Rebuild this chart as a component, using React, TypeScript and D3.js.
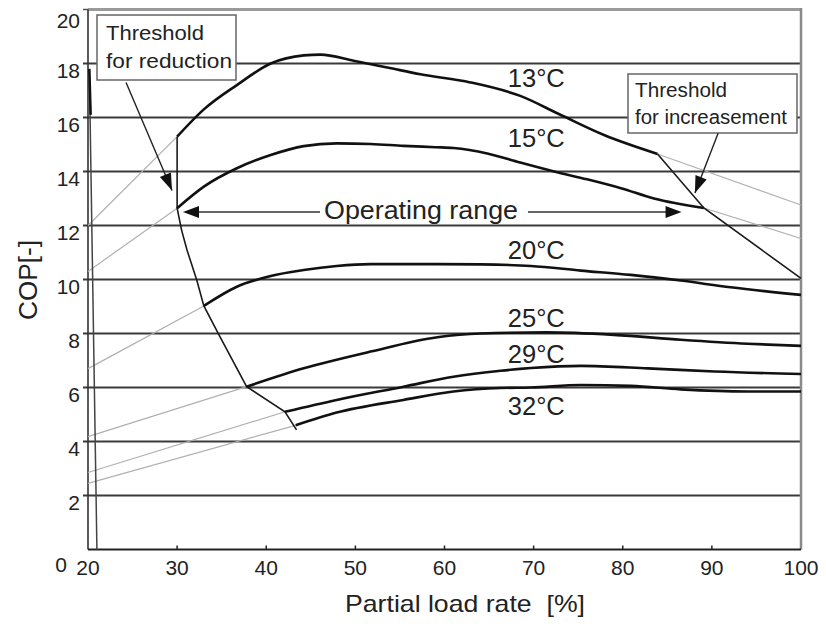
import React from 'react';
import * as d3 from 'd3';

const W = 826;
const H = 624;

// Axis ticks
const loadTicks = [20, 30, 40, 50, 60, 70, 80, 90, 100];
const copTicks = [0, 2, 4, 6, 8, 10, 12, 14, 16, 18, 20];

// Series (Partial load rate [%] vs COP)
const temps = ['13°C', '15°C', '20°C', '25°C', '29°C', '32°C'];
const load13 = [30, 33, 36.7, 40.5, 44.2, 46.1, 49.8, 53.6, 57.3, 62.9, 68.5, 73, 77.9, 83.9];
const cop13 = [15.29, 16.3, 17.2, 18.0, 18.3, 18.33, 18.1, 17.85, 17.6, 17.3, 16.8, 16.1, 15.35, 14.65];
const load15 = [30, 33, 36.7, 40.5, 44.2, 47.9, 51.7, 55.4, 59, 61, 64.8, 68.5, 72.3, 76, 79.8, 83.5, 89.1];
const cop15 = [12.64, 13.44, 14.12, 14.61, 14.94, 15.04, 15.02, 14.95, 14.9, 14.87, 14.67, 14.33, 14.0, 13.71, 13.38, 13.0, 12.65];
const load20 = [33, 36.7, 40.5, 44.2, 47.9, 51.7, 59.2, 64, 69.7, 75.3, 80.9, 86.5, 92.1, 100];
const cop20 = [9.02, 9.73, 10.13, 10.35, 10.5, 10.57, 10.57, 10.56, 10.5, 10.33, 10.17, 9.96, 9.71, 9.43];
const load25 = [37.8, 44.2, 51.7, 59.2, 64, 71.5, 79, 86.5, 94, 100];
const cop25 = [6.03, 6.71, 7.33, 7.86, 8.0, 8.04, 7.95, 7.77, 7.62, 7.54];
const load29 = [42.1, 47.9, 55.4, 61, 66.3, 69.7, 75.3, 82.8, 90.3, 100];
const cop29 = [5.1, 5.54, 6.03, 6.4, 6.62, 6.72, 6.8, 6.71, 6.59, 6.5];
const load32 = [43.3, 47.9, 55.4, 61, 66.3, 69.7, 75.3, 80.9, 86.5, 94, 100];
const cop32 = [4.6, 5.07, 5.54, 5.85, 5.98, 6.0, 6.09, 6.06, 5.93, 5.85, 5.85];

// Light grey extrapolations (left and right)
const extLoad = [[20, 30], [20, 30], [20, 33], [20, 37.8], [20, 42.1], [20, 43.3], [83.9, 100], [89.1, 100]];
const extCop = [[12.0, 15.29], [10.3, 12.64], [6.7, 9.02], [4.18, 6.03], [2.85, 5.1], [2.45, 4.6], [14.65, 12.76], [12.65, 11.52]];

// Threshold lines
const reduceLoad = [30, 30, 30.5, 31.1, 32.2, 33, 34.8, 37.8, 42.1, 43.4];
const reduceCop = [15.29, 12.64, 11.83, 11.1, 9.98, 9.02, 7.88, 6.03, 5.1, 4.43];
const increaseLoad = [83.9, 89.1, 100];
const increaseCop = [14.65, 12.65, 10.04];
const steepLoad = [20.15, 21.0];
const steepCop = [17.8, 0];
const steepTopLoad = [20.15, 20.3];
const steepTopCop = [17.8, 16.1];

// Series label positions (data units)
const labelLoad = [70.3, 70.3, 70.3, 70.3, 70.3, 70.3];
const labelCop = [17.12, 14.9, 10.75, 8.25, 6.92, 4.98];

const FONT = "'Liberation Sans', Arial, Helvetica, sans-serif";

const x = d3.scaleLinear().domain([20, 100]).range([88, 801]);
const y = d3.scaleLinear().domain([0, 20]).range([549.5, 9.5]);

const smooth = d3.line<[number, number]>().x(d => x(d[0])).y(d => y(d[1])).curve(d3.curveMonotoneX);
const straight = d3.line<[number, number]>().x(d => x(d[0])).y(d => y(d[1])).curve(d3.curveLinear);

const zip = (a: number[], b: number[]): [number, number][] => a.map((v, i) => [v, b[i]]);

const seriesLoads = [load13, load15, load20, load25, load29, load32];
const seriesCops = [cop13, cop15, cop20, cop25, cop29, cop32];

function ArrowHead({ x1, y1, x2, y2, len = 16, wid = 12 }: { x1: number; y1: number; x2: number; y2: number; len?: number; wid?: number }) {
  const a = Math.atan2(y2 - y1, x2 - x1);
  const bx = x2 - len * Math.cos(a);
  const by = y2 - len * Math.sin(a);
  const px = -Math.sin(a) * wid / 2;
  const py = Math.cos(a) * wid / 2;
  return <path d={`M${x2},${y2}L${bx + px},${by + py}L${bx - px},${by - py}Z`} fill="#111" />;
}

export default function App() {
  const opY = y(12.5);
  const opL = x(30.66);
  const opR = x(86.6);
  const a1 = { x1: x(24.27), y1: y(17.3), x2: x(29.43), y2: y(13.3) };
  const a2 = { x1: x(90.7), y1: y(15.42), x2: x(88.1), y2: y(13.2) };

  return (
    <svg width={W} height={H} style={{ position: 'absolute', left: 0, top: 0, display: 'block', background: '#fff' }} fontFamily={FONT}>
      <rect x={0} y={0} width={W} height={H} fill="#fff" />
      {/* gridlines + y ticks */}
      {copTicks.filter(v => v > 0 && v < 20).map(v => (
        <line key={'g' + v} x1={x(20) - 5} x2={x(100)} y1={y(v)} y2={y(v)} stroke="#3a3a3a" strokeWidth={1.8} />
      ))}
      {/* frame */}
      <line x1={x(20)} x2={x(100)} y1={y(20)} y2={y(20)} stroke="#9a9a9a" strokeWidth={3} />
      <line x1={x(20) - 5} x2={x(20)} y1={y(20)} y2={y(20)} stroke="#555" strokeWidth={1.5} />
      <line x1={x(100)} x2={x(100)} y1={y(20) - 1.5} y2={y(0)} stroke="#8a8a8a" strokeWidth={2.5} />
      <line x1={x(20)} x2={x(20)} y1={y(20)} y2={y(0)} stroke="#333" strokeWidth={1.6} />
      <line x1={x(20)} x2={x(100)} y1={y(0)} y2={y(0)} stroke="#222" strokeWidth={2} />
      {loadTicks.filter(v => v > 20 && v < 100).map(v => (
        <line key={'t' + v} x1={x(v)} x2={x(v)} y1={y(0)} y2={y(0) - 4} stroke="#222" strokeWidth={1.5} />
      ))}

      {/* grey extrapolations */}
      {extLoad.map((xs, i) => (
        <path key={'e' + i} d={straight(zip(xs, extCop[i])) || ''} fill="none" stroke="#b0b0b0" strokeWidth={1.2} />
      ))}

      {/* steep line at left */}
      <path d={straight(zip(steepLoad, steepCop)) || ''} fill="none" stroke="#444" strokeWidth={1.5} />
      <path d={straight(zip(steepTopLoad, steepTopCop)) || ''} fill="none" stroke="#111" strokeWidth={2.5} />

      {/* threshold lines */}
      <path d={straight(zip(reduceLoad, reduceCop)) || ''} fill="none" stroke="#1a1a1a" strokeWidth={1.6} />
      <path d={straight(zip(increaseLoad, increaseCop)) || ''} fill="none" stroke="#1a1a1a" strokeWidth={1.6} />

      {/* series */}
      {seriesLoads.map((xs, i) => (
        <path key={'s' + i} d={smooth(zip(xs, seriesCops[i])) || ''} fill="none" stroke="#111" strokeWidth={2.6} strokeLinejoin="round" />
      ))}

      {/* series labels */}
      {temps.map((t, i) => (
        <text key={'l' + i} x={x(labelLoad[i])} y={y(labelCop[i])} textAnchor="middle" fontSize={25} fill="#222" textLength={57} lengthAdjust="spacingAndGlyphs">{t}</text>
      ))}

      {/* operating range */}
      <line x1={opL + 10} x2={320} y1={opY} y2={opY} stroke="#666" strokeWidth={2} />
      <line x1={528} x2={opR - 10} y1={opY} y2={opY} stroke="#666" strokeWidth={2} />
      <ArrowHead x1={opL + 20} y1={opY} x2={opL} y2={opY} />
      <ArrowHead x1={opR - 20} y1={opY} x2={opR} y2={opY} />
      <text x={324} y={opY + 7} fontSize={25} fill="#222" textLength={194} lengthAdjust="spacingAndGlyphs">Operating range</text>

      {/* threshold boxes */}
      <rect x={97} y={15} width={139} height={65} fill="#fff" stroke="#666" strokeWidth={1.5} />
      <text x={106} y={40} fontSize={21} fill="#222" textLength={98} lengthAdjust="spacingAndGlyphs">Threshold</text>
      <text x={106} y={68} fontSize={21} fill="#222" textLength={126} lengthAdjust="spacingAndGlyphs">for reduction</text>
      <line x1={a1.x1} y1={a1.y1} x2={a1.x2} y2={a1.y2} stroke="#222" strokeWidth={1.4} />
      <ArrowHead {...a1} len={17} wid={12} />

      <rect x={628} y={74} width={169} height={59} fill="#fff" stroke="#666" strokeWidth={1.5} />
      <text x={635} y={97} fontSize={20} fill="#222" textLength={92} lengthAdjust="spacingAndGlyphs">Threshold</text>
      <text x={635} y={124} fontSize={20} fill="#222" textLength={152} lengthAdjust="spacingAndGlyphs">for increasement</text>
      <line x1={a2.x1} y1={a2.y1} x2={a2.x2} y2={a2.y2} stroke="#222" strokeWidth={1.4} />
      <ArrowHead {...a2} len={17} wid={12} />

      {/* y tick labels */}
      {copTicks.map(v => (
        <text key={'yl' + v} x={v === 0 ? 67 : 80} y={v === 0 ? y(0) + 22 : v === 20 ? y(20) + 18 : y(v) + 14} textAnchor="end" fontSize={21} fill="#222">{v}</text>
      ))}
      {/* x tick labels */}
      {loadTicks.map(v => (
        <text key={'xl' + v} x={x(v)} y={575} textAnchor="middle" fontSize={21} fill="#222">{v}</text>
      ))}

      {/* axis titles */}
      <text x={465} y={612} textAnchor="middle" fontSize={24} fill="#222" textLength={240} lengthAdjust="spacingAndGlyphs">{'Partial load rate\u00a0 [%]'}</text>
      <text transform="translate(37,280) rotate(-90)" textAnchor="middle" fontSize={25} fill="#222" textLength={80} lengthAdjust="spacingAndGlyphs">COP[-]</text>
    </svg>
  );
}
